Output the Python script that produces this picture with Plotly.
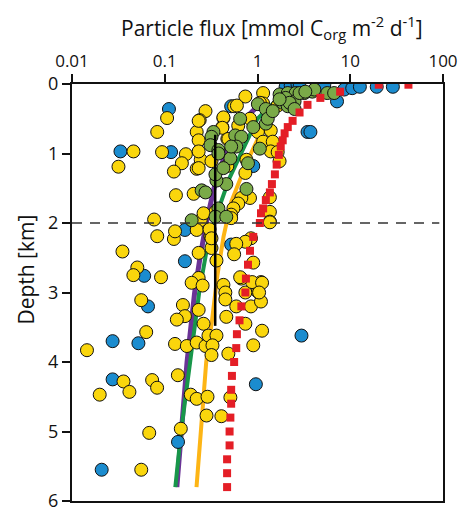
import plotly.graph_objects as go

# ---- data (flux in mmol Corg m-2 d-1, depth in km) ----
blue_flux = [0.111, 0.0333, 0.117, 0.52, 0.165, 0.165, 0.060, 0.066, 0.0274, 0.052,
             0.0274, 0.139, 0.0209, 0.52, 0.90, 2.98, 0.96, 3.46, 3.72, 7.2,
             2.01, 2.28, 2.70, 2.84, 5.25, 8.6, 10.5, 12.7, 19.3, 28.8]
blue_depth = [0.36, 0.97, 0.98, 0.32, 2.55, 2.10, 2.76, 3.20, 3.70, 3.73,
              4.25, 5.15, 5.55, 2.31, 1.18, 3.62, 4.32, 0.69, 0.69, 0.25,
              0.04, 0.02, 0.01, 0.04, 0.01, 0.08, 0.06, 0.04, 0.04, 0.04]

yellow_flux = [0.106, 0.083, 0.275, 0.238, 0.221, 0.046, 0.0935, 0.169, 0.153, 0.244,
               0.221, 0.0317, 0.1255, 0.132, 0.205, 0.0768, 0.244, 0.473, 0.418, 0.429,
               0.56, 0.74, 1.15, 0.60, 1.15, 1.65, 0.232, 0.429, 0.83, 0.62,
               1.39, 1.01, 0.418, 0.485, 1.15, 1.46, 1.39, 1.65, 0.232, 0.232,
               0.319, 0.76, 0.473, 0.232, 0.74, 1.73, 0.83, 0.67, 0.62, 0.55,
               1.36, 0.52, 0.352, 0.262, 1.36, 1.36, 0.083, 0.1255, 0.129, 0.221,
               0.232, 0.035, 0.0506, 0.0459, 0.0912, 0.232, 0.195, 0.256, 0.0558, 0.157,
               0.165, 0.135, 0.232, 0.262, 0.0631, 0.129, 0.173, 0.221, 0.275, 0.0145,
               0.296, 0.361, 0.327, 0.319, 0.485, 0.0359, 0.0416, 0.0199, 0.0731, 0.0827,
               0.1385, 0.1906, 0.221, 0.289, 0.51, 0.282, 0.408, 0.068, 0.149, 0.0558,
               0.429, 0.45, 0.45, 0.59, 0.85, 1.09, 1.01, 0.74, 1.09, 0.875,
               0.67, 0.461, 0.74, 1.12, 0.90, 0.319, 0.311, 0.361, 0.304, 0.319,
               1.36, 0.85, 0.74, 0.59, 0.56, 0.90, 0.65, 1.12, 1.04, 0.52,
               1.06]
yellow_depth = [0.49, 0.69, 0.39, 0.52, 0.69, 0.97, 0.98, 1.01, 1.14, 1.09,
                1.22, 1.19, 1.26, 1.60, 1.58, 1.95, 1.96, 0.79, 0.62, 0.49,
                0.32, 0.18, 0.13, 0.31, 0.28, 0.31, 0.53, 0.48, 0.50, 0.60,
                0.67, 0.69, 0.63, 0.79, 0.83, 0.83, 0.97, 0.98, 0.81, 0.97,
                1.11, 1.09, 1.18, 1.21, 1.28, 1.11, 1.64, 1.64, 1.72, 1.79,
                1.63, 1.88, 1.84, 1.86, 1.84, 1.98, 2.19, 2.23, 2.12, 2.10,
                2.43, 2.41, 2.64, 2.75, 2.78, 2.79, 2.86, 2.90, 3.11, 3.18,
                3.34, 3.39, 3.25, 3.45, 3.57, 3.74, 3.77, 3.72, 3.77, 3.83,
                3.62, 3.62, 3.76, 3.90, 3.88, 4.28, 4.43, 4.47, 4.26, 4.37,
                4.19, 4.47, 4.53, 4.50, 4.51, 4.77, 4.78, 5.02, 4.96, 5.55,
                2.89, 3.00, 3.10, 3.20, 3.20, 3.13, 2.99, 3.00, 2.85, 2.85,
                2.80, 3.35, 3.45, 3.55, 3.76, 2.36, 2.19, 2.54, 2.09, 2.22,
                1.99, 2.22, 2.27, 2.30, 2.45, 2.57, 2.78, 2.86, 3.00, 1.93,
                0.27]

green_flux = [1.73, 2.12, 2.58, 3.2, 3.9, 5.65, 6.7, 4.1, 2.01, 1.87,
              2.12, 2.51, 2.22, 2.51, 1.73, 1.01, 1.23, 2.84, 3.28, 0.65,
              1.23, 0.335, 0.319, 0.311, 0.575, 0.67, 1.06, 0.59, 0.379, 0.51,
              0.379, 0.52, 0.461, 0.361, 0.76, 0.25, 0.275, 0.379, 0.352, 0.195,
              0.352, 0.461, 0.429, 0.79, 1.29, 0.90, 1.46]
green_depth = [0.15, 0.13, 0.13, 0.13, 0.11, 0.13, 0.13, 0.08, 0.20, 0.27,
               0.32, 0.25, 0.27, 0.36, 0.22, 0.29, 0.36, 0.13, 0.11, 0.50,
               0.57, 0.69, 0.76, 0.88, 0.74, 0.76, 0.93, 0.90, 0.95, 1.07,
               1.00, 0.90, 1.44, 1.39, 1.51, 1.53, 1.56, 1.79, 1.30, 1.96,
               1.91, 1.91, 1.21, 1.14, 0.50, 0.62, 0.39]

red_flux = [42.4, 20.3, 7.78, 4.76, 3.46, 2.84, 2.39, 2.12, 1.96, 1.87,
            1.78, 1.70, 1.61, 1.54, 1.43, 1.36, 1.23, 1.15, 1.09, 1.06,
            0.90, 0.83, 0.79, 0.75, 0.74, 0.67, 0.64, 0.60, 0.59, 0.56,
            0.53, 0.52, 0.52, 0.51, 0.50, 0.50, 0.47, 0.47, 0.47]
red_depth = [0.01, 0.01, 0.11, 0.20, 0.30, 0.41, 0.53, 0.62, 0.71, 0.81,
             0.90, 1.02, 1.16, 1.30, 1.44, 1.56, 1.67, 1.79, 1.86, 2.0,
             2.2, 2.4, 2.6, 2.8, 3.0, 3.2, 3.4, 3.6, 3.8, 4.0,
             4.2, 4.4, 4.6, 4.8, 5.0, 5.2, 5.4, 5.6, 5.8]

purple_depth = [0.3, 0.5, 0.75, 1.0, 1.5, 2.0, 2.5, 3.0, 4.0, 5.0, 5.8]
purple_flux = [1.04, 0.73, 0.55, 0.45, 0.34, 0.28, 0.24, 0.21, 0.174, 0.149, 0.135]

greenline_depth = [0.25, 0.5, 0.9, 1.35, 1.8, 2.2, 3.0, 3.9, 5.0, 5.8]
greenline_flux = [1.55, 1.0, 0.72, 0.5, 0.38, 0.3, 0.235, 0.19, 0.15, 0.13]

orange_depth = [0.35, 0.55, 0.8, 1.0, 1.35, 1.7, 2.2, 2.75, 3.45, 4.0, 5.0, 5.8]
orange_flux = [1.6, 1.35, 1.0, 0.85, 0.66, 0.52, 0.43, 0.37, 0.32, 0.28, 0.245, 0.22]

black_flux = [0.35, 0.35]
black_depth = [0.73, 3.48]

x_tickvals = [0.01, 0.1, 1, 10, 100]
x_ticktext = ["0.01", "0.1", "1", "10", "100"]
y_tickvals = [0, 1, 2, 3, 4, 5, 6]
y_ticktext = ["0", "1", "2", "3", "4", "5", "6"]

FONT = "Open Sans"

fig = go.Figure()

# model curves
fig.add_trace(go.Scatter(x=purple_flux, y=purple_depth, mode="lines",
                         line=dict(color="#6a3396", width=5), hoverinfo="skip"))
fig.add_trace(go.Scatter(x=greenline_flux, y=greenline_depth, mode="lines",
                         line=dict(color="#18964a", width=4), hoverinfo="skip"))
fig.add_trace(go.Scatter(x=orange_flux, y=orange_depth, mode="lines",
                         line=dict(color="#fdb515", width=4), hoverinfo="skip"))

mk_line = dict(color="#111111", width=1)
fig.add_trace(go.Scatter(x=blue_flux, y=blue_depth, mode="markers",
                         marker=dict(size=13, color="#1b8ccf", line=mk_line)))
fig.add_trace(go.Scatter(x=yellow_flux, y=yellow_depth, mode="markers",
                         marker=dict(size=13, color="#fad60c", line=mk_line)))
fig.add_trace(go.Scatter(x=green_flux, y=green_depth, mode="markers",
                         marker=dict(size=13, color="#7aaa48", line=mk_line)))

fig.add_trace(go.Scatter(x=red_flux, y=red_depth, mode="markers",
                         marker=dict(size=8, symbol="square", color="#e41e26",
                                     line=dict(width=0))))
fig.add_trace(go.Scatter(x=black_flux, y=black_depth, mode="lines",
                         line=dict(color="#000000", width=2.5), hoverinfo="skip"))

fig.add_shape(type="line", xref="paper", yref="y", x0=0, x1=0.99, y0=2, y1=2,
              line=dict(color="#333333", width=1.5, dash="10px,8px"))

fig.update_layout(
    width=462, height=516,
    margin=dict(l=72, r=15, t=84, b=4),
    paper_bgcolor="white", plot_bgcolor="white",
    showlegend=False,
    font=dict(family=FONT, size=18, color="#111111"),
    xaxis=dict(type="log", range=[-2, 2], side="top",
               tickvals=x_tickvals, ticktext=x_ticktext,
               ticks="outside", ticklen=8, tickwidth=2, tickcolor="#111111",
               showline=True, linewidth=2, linecolor="#111111", mirror=True,
               showgrid=False, zeroline=False, ticklabeloverflow="allow",
               tickfont=dict(family=FONT, size=17)),
    yaxis=dict(range=[6, 0], tickvals=y_tickvals, ticktext=y_ticktext,
               ticks="outside", ticklen=8, tickwidth=2, tickcolor="#111111",
               showline=True, linewidth=2, linecolor="#111111", mirror=True,
               showgrid=False, zeroline=False, ticklabeloverflow="allow",
               tickfont=dict(family=FONT, size=18)),
    annotations=[
        dict(text="Particle flux [mmol C<sub>org</sub> m<sup>-2</sup> d<sup>-1</sup>]",
             xref="paper", yref="paper", x=0.539, y=1.1355,
             xanchor="center", yanchor="middle", showarrow=False,
             font=dict(family=FONT, size=21)),
        dict(text="Depth [km]", xref="paper", yref="paper", x=-0.125, y=0.554,
             xanchor="center", yanchor="middle", textangle=-90, showarrow=False,
             font=dict(family=FONT, size=21)),
    ],
)

fig.write_html("out.html",
               config={"displayModeBar": False},
               post_script="document.body.style.margin='0px';document.body.style.overflow='hidden';")
